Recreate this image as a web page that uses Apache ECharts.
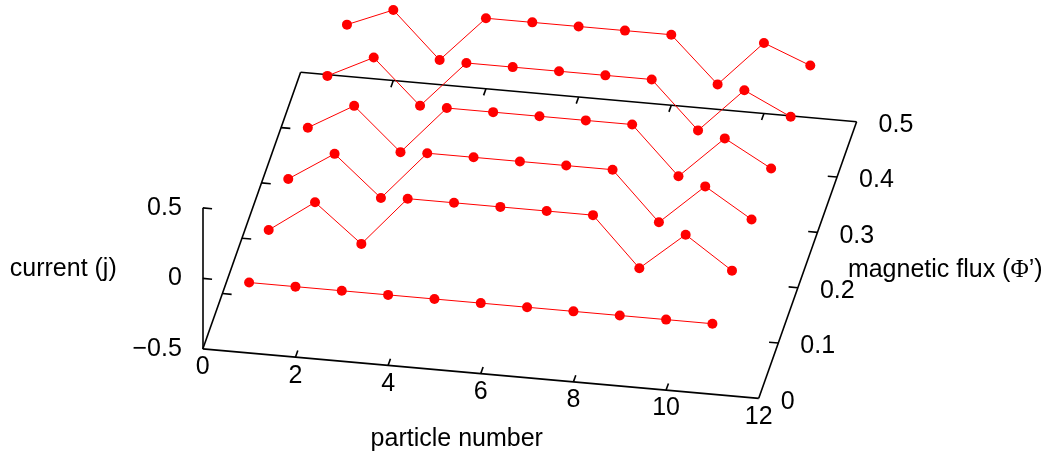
<!DOCTYPE html>
<html><head><meta charset="utf-8">
<script src="https://cdn.jsdelivr.net/npm/echarts@6/dist/echarts.min.js"></script>
<style>html,body{margin:0;padding:0;background:#fff}#c{width:1051px;height:461px}</style>
</head><body><div id="c"></div>
<script>
// ---- data ----
const particles = [1, 2, 3, 4, 5, 6, 7, 8, 9, 10, 11];
const fluxValues = [0, 0.1, 0.2, 0.3, 0.4, 0.5];
const currentFlux00 = [0, 0, 0, 0, 0, 0, 0, 0, 0, 0, 0];
const currentFlux01 = [-0.02, 0.206, -0.06, 0.29, 0.29, 0.29, 0.29, 0.29, -0.057, 0.21, -0.016];
const currentFlux02 = [-0.05, 0.157, -0.127, 0.22, 0.22, 0.22, 0.22, 0.22, -0.124, 0.16, -0.045];
const currentFlux03 = [-0.079, 0.105, -0.194, 0.148, 0.148, 0.148, 0.148, 0.148, -0.19, 0.108, -0.076];
const currentFlux04 = [-0.104, 0.055, -0.258, 0.075, 0.075, 0.075, 0.075, 0.075, -0.257, 0.057, -0.102];
const currentFlux05 = [-0.133, 0, -0.325, 0, 0, 0, 0, 0, -0.323, 0, -0.131];
const particleTicks = [0, 2, 4, 6, 8, 10, 12];
const fluxTicks = [0, 0.1, 0.2, 0.3, 0.4, 0.5];
const currentTicks = [-0.5, 0, 0.5];
const particleRange = [0, 12];
const fluxRange = [0, 0.5];
const currentRange = [-0.5, 0.5];
const fluxTickLabels = ['0', '0.1', '0.2', '0.3', '0.4', '0.5'];
const currentTickLabels = ['\u22120.5', '0', '0.5'];
const particleTickLabels = ['0', '2', '4', '6', '8', '10', '12'];

// ---- oblique view: horizontal axis in particle units, vertical axis in current units ----
const view = { fluxToX: 4.224, particleToY: -0.02922, fluxToY: 3.924 };
function proj(n, f, j) {
  return [n + view.fluxToX * f, j + view.particleToY * n + view.fluxToY * f];
}

const rows = [currentFlux00, currentFlux01, currentFlux02, currentFlux03, currentFlux04, currentFlux05];
const FONT = '"Liberation Sans", Arial, sans-serif';
const FS = 25;

const [n0, n1] = particleRange, [f0, f1] = fluxRange, [j0, j1] = currentRange;
const seg = (a, b) => ({ coords: [a, b] });
const frame = [
  seg(proj(n0, f0, j0), proj(n1, f0, j0)),
  seg(proj(n1, f0, j0), proj(n1, f1, j0)),
  seg(proj(n1, f1, j0), proj(n0, f1, j0)),
  seg(proj(n0, f1, j0), proj(n0, f0, j0)),
  seg(proj(n0, f0, j0), proj(n0, f0, j1))
];
const tickF = 0.012, tickN = 0.2;
particleTicks.filter(n => n > n0 && n < n1).forEach(n => {
  frame.push(seg(proj(n, f0, j0), proj(n, f0 + tickF, j0)));
  frame.push(seg(proj(n, f1, j0), proj(n, f1 - tickF, j0)));
});
fluxTicks.filter(f => f > f0 && f < f1).forEach(f => {
  frame.push(seg(proj(n1, f, j0), proj(n1 - tickN, f, j0)));
  frame.push(seg(proj(n0, f, j0), proj(n0 + tickN, f, j0)));
});
currentTicks.filter(j => j > j0).forEach(j => {
  frame.push(seg(proj(n0, f0, j), proj(n0 + tickN, f0, j)));
});

const series = [
  {
    type: 'lines', coordinateSystem: 'cartesian2d', data: frame, silent: true, z: 1,
    lineStyle: { color: '#000', width: 1.6, opacity: 1 }, animation: false
  }
];
rows.forEach((vals, r) => {
  series.push({
    type: 'line', name: 'flux ' + fluxValues[r], z: 2, clip: false, animation: false, silent: true,
    data: particles.map((n, i) => proj(n, fluxValues[r], vals[i])),
    symbol: 'circle', symbolSize: 10, showSymbol: true,
    lineStyle: { color: '#ff0000', width: 1 },
    itemStyle: { color: '#ff0000', borderWidth: 0 }
  });
});

const chart = echarts.init(document.getElementById('c'), null, { renderer: 'canvas' });
chart.setOption({
  animation: false,
  backgroundColor: '#fff',
  grid: { left: 0, right: 0, top: 0, bottom: 0, containLabel: false },
  xAxis: { type: 'value', min: -4.377, max: 18.308, show: false },
  yAxis: { type: 'value', min: -1.295, max: 1.9745, show: false },
  series: series
});

// tick labels and axis titles as text, placed through the chart's own scales
const px = p => chart.convertToPixel({ gridIndex: 0 }, p);
const txt = (pos, text, align, dx, dy, extra) => Object.assign({
  type: 'text', x: pos[0] + dx, y: pos[1] + dy, silent: true, z: 10,
  style: Object.assign({ text: text, fontFamily: FONT, fontSize: FS, fill: '#000', align: align, verticalAlign: 'middle' }, extra || {})
});
const graphics = [];
particleTicks.forEach((n, i) => graphics.push(txt(px(proj(n, f0, j0)), particleTickLabels[i], 'center', 0, 18.5)));
fluxTicks.forEach((f, i) => graphics.push(txt(px(proj(n1, f, j0)), fluxTickLabels[i], 'left', 22, 3.5)));
currentTicks.forEach((j, i) => graphics.push(txt(px(proj(n0, f0, j)), currentTickLabels[i], 'right', -21, 0)));
graphics.push(txt(px(proj(n0, f0, 0)), 'current (j)', 'left', -193, -9));
graphics.push(txt(px(proj(6, f0, j0)), 'particle number', 'center', -24, 65));
graphics.push(txt(px(proj(n1, 0.2, j0)), 'magnetic flux ({phi|\u03A6}\u2019)', 'left', 50, -17.5,
  { rich: { phi: { fontFamily: '"Liberation Serif", "DejaVu Serif", serif', fontSize: FS, fill: '#000' } } }));
chart.setOption({ graphic: graphics });
</script>
</body></html>
